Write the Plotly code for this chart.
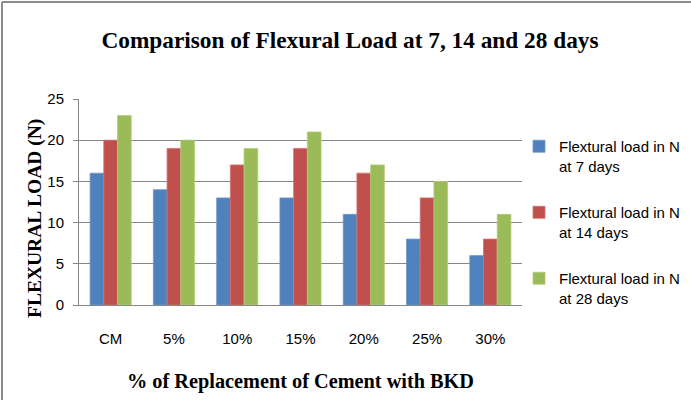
import plotly.graph_objects as go

# Replacement levels of cement with BKD
categories = ["CM", "5%", "10%", "15%", "20%", "25%", "30%"]

# Flexural load (N) at each curing age
load_7_days = [16, 14, 13, 13, 11, 8, 6]
load_14_days = [20, 19, 17, 19, 16, 13, 8]
load_28_days = [23, 20, 19, 21, 17, 15, 11]

series_names = [
    "Flextural load in N<br>at 7 days",
    "Flextural load in N<br>at 14 days",
    "Flextural load in N<br>at 28 days",
]
series_values = [load_7_days, load_14_days, load_28_days]
series_colors = ["#4F81BD", "#C0504D", "#9BBB59"]
series_edges = ["#6E98CC", "#D2716E", "#B3CD7A"]

y_ticks = [0, 5, 10, 15, 20, 25]

TICK_FONT = "Liberation Sans Narrow, Arial Narrow, Liberation Sans, sans-serif"
SERIF = "Liberation Serif, Times New Roman, serif"

fig = go.Figure()
for i, (name, vals, col, edge) in enumerate(zip(series_names, series_values, series_colors, series_edges)):
    fig.add_trace(go.Bar(
        x=categories, y=vals, name=name,
        marker=dict(color=col, line=dict(color=edge, width=0.8)),
        legendgroup=f"g{i}",
    ))

# plot area geometry (pixels)
W, H = 691, 400
L, R, T, B = 79, 522, 99, 305
pw, ph = R - L, B - T


def px_x(x):
    return (x - L) / pw


def px_y(y):
    return (B - y) / ph


fig.update_layout(
    width=W, height=H,
    margin=dict(l=L, r=W - R, t=T, b=H - B, autoexpand=False),
    paper_bgcolor="white", plot_bgcolor="white",
    barmode="group", bargap=0.35, bargroupgap=0,
    showlegend=True,
    legend=dict(
        x=px_x(519), xanchor="left", y=px_y(130), yanchor="top",
        font=dict(family=TICK_FONT, size=15, color="#000000"),
        valign="top", tracegroupgap=24, itemwidth=30,
        bgcolor="rgba(0,0,0,0)",
    ),
    title=dict(
        text="<b>Comparison of Flexural Load at 7, 14 and 28 days</b>",
        font=dict(family=SERIF, size=23.3, color="#000000"),
        xref="container", yref="container",
        x=350 / W, xanchor="center", y=1 - 40 / H, yanchor="middle",
    ),
    xaxis=dict(
        type="category", showgrid=False, showline=True, linecolor="#868686", linewidth=1,
        ticks="", tickfont=dict(family=TICK_FONT, size=15, color="#000000"),
        ticklabelstandoff=20,
    ),
    yaxis=dict(
        range=[0, 25], tickvals=y_ticks, showgrid=True, gridcolor="#868686", gridwidth=1,
        showline=True, linecolor="#868686", linewidth=1, ticks="outside", ticklen=5,
        tickcolor="#868686", zeroline=False, ticklabelstandoff=6,
        tickfont=dict(family=TICK_FONT, size=15, color="#000000"),
    ),
    annotations=[
        dict(text="<b>% of Replacement of Cement with BKD</b>", xref="paper", yref="paper",
             x=0.5, y=px_y(381), xanchor="center", yanchor="middle", showarrow=False,
             font=dict(family=SERIF, size=20.3, color="#000000")),
        dict(text="<b>FLEXURAL LOAD (N)</b>", xref="paper", yref="paper",
             x=px_x(35), y=px_y(219), xanchor="center", yanchor="middle", showarrow=False,
             textangle=-90, font=dict(family=SERIF, size=19.5, color="#000000")),
    ],
    shapes=[
        dict(type="line", xref="paper", yref="paper", x0=px_x(2), x1=px_x(700),
             y0=px_y(2), y1=px_y(2), line=dict(color="#8C8C8C", width=2)),
        dict(type="line", xref="paper", yref="paper", x0=px_x(2), x1=px_x(2),
             y0=px_y(2), y1=px_y(410), line=dict(color="#8C8C8C", width=2)),
    ],
)

fig.write_html("out.html")
